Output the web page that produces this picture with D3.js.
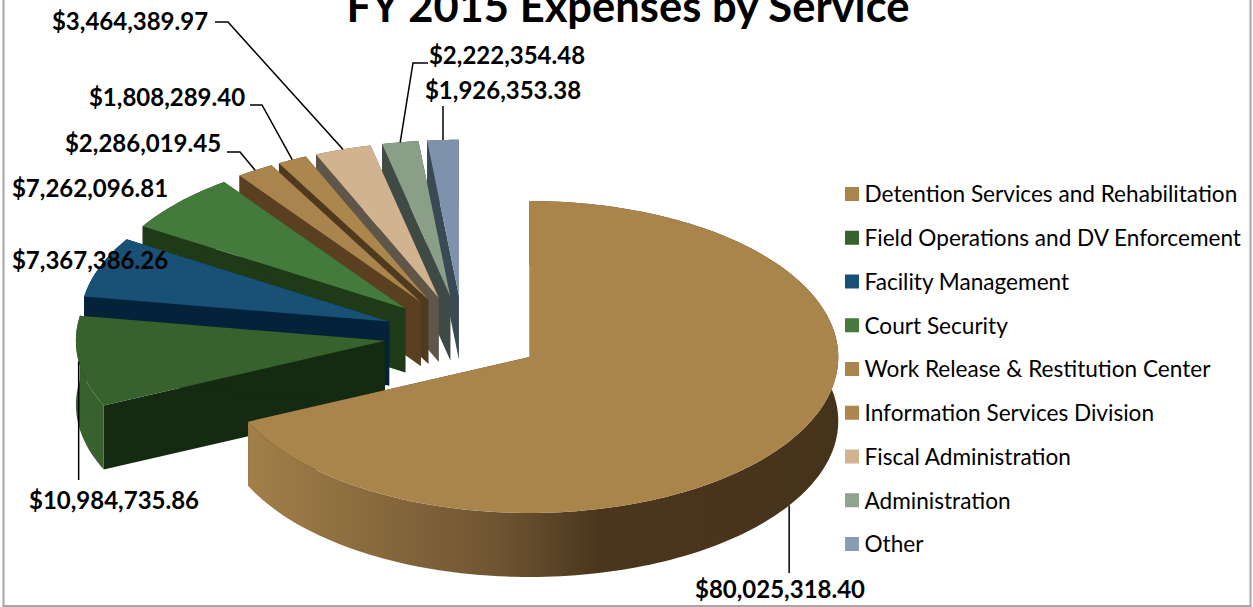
<!DOCTYPE html>
<html>
<head>
<meta charset="utf-8">
<script src="https://cdn.jsdelivr.net/npm/d3@7"></script>
<style>
  body { margin: 0; background: #fff; }
  text { font-family: Lato, "Open Sans", sans-serif; fill: #000; }
</style>
</head>
<body>
<svg class="plot" width="1253" height="607"></svg>
<script>
var categories = ["Detention Services and Rehabilitation", "Field Operations and DV Enforcement",
  "Facility Management", "Court Security", "Work Release & Restitution Center",
  "Information Services Division", "Fiscal Administration", "Administration", "Other"];
var amounts = [80025318.40, 10984735.86, 7367386.26, 7262096.81, 2286019.45,
  1808289.40, 3464389.97, 2222354.48, 1926353.38];

var topColors = ["#a9854c", "#37612d", "#195176", "#457a3d", "#a9844c", "#ab864d", "#d1b48f", "#8b9f88", "#7f92ab"];
var wallColors = ["#47341c", "#142b11", "#04233b", "#1f3a17", "#5a3f20", "#4f3a20", "#5f5549", "#3f4a45", "#3a4a55"];
var swatchColors = ["#a9854c", "#37612d", "#195176", "#457a3d", "#a9844c", "#ab864d", "#d1b48f", "#8fa38f", "#8b9bb4"];

// where each value label goes, same order as categories
var labelSpots = [
  {x: 780, y: 590, drop: 573},
  {x: 114, y: 501, drop: 480},
  {x: 90, y: 261},
  {x: 90, y: 189},
  {x: 143, y: 144, elbow: [[240, 152], [227, 152]]},
  {x: 167, y: 98, elbow: [[262, 105], [250, 105]]},
  {x: 130, y: 22, elbow: [[228, 22], [215, 22]]},
  {x: 507, y: 56, elbow: [[413, 63], [428, 63]]},
  {x: 503, y: 91, drop: 106}
];

var svg = d3.select(".plot");

// pie geometry, a circle tilted into an ellipse
var cx = 463, cy = 335.5,
    rx = 309, ry = 156,
    depth = 64,
    explode = 0.255;

var pie = d3.pie().sort(null).startAngle(0).endAngle(2 * Math.PI);
var slices = pie(amounts);
slices.forEach(function(d) {
  var mid = (d.startAngle + d.endAngle) / 2;
  d.mid = mid;
  d.ox = cx + explode * rx * Math.sin(mid);
  d.oy = cy - explode * ry * Math.cos(mid);
});

function rimPoint(d, a, r) {
  return [d.ox + r * rx * Math.sin(a), d.oy - r * ry * Math.cos(a)];
}
function arcPoints(d) {
  var n = Math.max(8, Math.ceil((d.endAngle - d.startAngle) * 40));
  return d3.range(n + 1).map(function(i) {
    return rimPoint(d, d.startAngle + (d.endAngle - d.startAngle) * i / n, 1);
  });
}
function lower(p) { return [p[0], p[1] + depth]; }

var line = d3.line();

// gradient on the big slice's outer wall
var grad = svg.append("defs").append("linearGradient")
    .attr("id", "rimShade")
    .attr("gradientUnits", "userSpaceOnUse")
    .attr("x1", 246).attr("x2", 838).attr("y1", 0).attr("y2", 0);
grad.append("stop").attr("offset", 0).attr("stop-color", "#a38049");
grad.append("stop").attr("offset", 0.42).attr("stop-color", "#6f5532");
grad.append("stop").attr("offset", 0.6).attr("stop-color", "#4a361d");
grad.append("stop").attr("offset", 1).attr("stop-color", "#46331b");

// frame, the top edge is cut off in the original
svg.append("rect")
    .attr("x", 3.5).attr("y", -10)
    .attr("width", 1247).attr("height", 616)
    .attr("fill", "#fff")
    .attr("stroke", "#a6a6a6")
    .attr("stroke-width", 2);

// draw far slices first, the big one goes last
var order = d3.range(slices.length).reverse();
var pieces = svg.append("g").attr("class", "pie");

order.forEach(function(i) {
  var d = slices[i],
      g = pieces.append("g"),
      apex = [d.ox, d.oy],
      arc = arcPoints(d),
      first = arc[0],
      last = arc[arc.length - 1];

  // cut faces
  [first, last].forEach(function(p) {
    g.append("path")
        .attr("d", line([apex, p, lower(p), lower(apex)]) + "Z")
        .attr("fill", wallColors[i]);
  });

  // outer wall
  g.append("path")
      .attr("d", line(arc.concat(arc.map(lower).reverse())) + "Z")
      .attr("fill", i === 0 ? "url(#rimShade)" : (i === 1 ? topColors[i] : wallColors[i]));

  // top
  g.append("path")
      .attr("d", line([apex].concat(arc)) + "Z")
      .attr("fill", topColors[i]);
});

// leader lines and value labels
var money = d3.format("$,.2f");
slices.forEach(function(d, i) {
  var spot = labelSpots[i],
      a = rimPoint(d, d.mid, 1),
      pts = null;
  if (i === 0) a = lower(a);
  if (spot.drop) pts = [a, [a[0], spot.drop]];
  if (spot.elbow) pts = [a].concat(spot.elbow);
  if (pts) {
    svg.append("path")
        .attr("d", line(pts))
        .attr("fill", "none")
        .attr("stroke", "#000")
        .attr("stroke-width", 1.5);
  }
  svg.append("text")
      .attr("x", spot.x)
      .attr("y", spot.y)
      .attr("dy", "0.35em")
      .attr("text-anchor", "middle")
      .style("font-size", "24px")
      .style("font-weight", 700)
      .text(money(amounts[i]));
});

svg.append("text")
    .attr("x", 628)
    .attr("y", 22)
    .attr("text-anchor", "middle")
    .style("font-size", "43.5px")
    .style("font-weight", 700)
    .text("FY 2015 Expenses by Service");

// legend
var legendY = d3.scalePoint().domain(categories).range([194, 544]);
var legend = svg.selectAll(".legend")
    .data(categories)
    .enter().append("g")
    .attr("class", "legend")
    .attr("transform", function(d) { return "translate(845," + legendY(d) + ")"; });
legend.append("rect")
    .attr("y", -7)
    .attr("width", 14)
    .attr("height", 14)
    .attr("fill", function(d, i) { return swatchColors[i]; });
legend.append("text")
    .attr("x", 19.5)
    .attr("y", 0.5)
    .attr("dy", "0.35em")
    .style("font-size", "22.6px")
    .text(function(d) { return d; });
</script>
</body>
</html>
